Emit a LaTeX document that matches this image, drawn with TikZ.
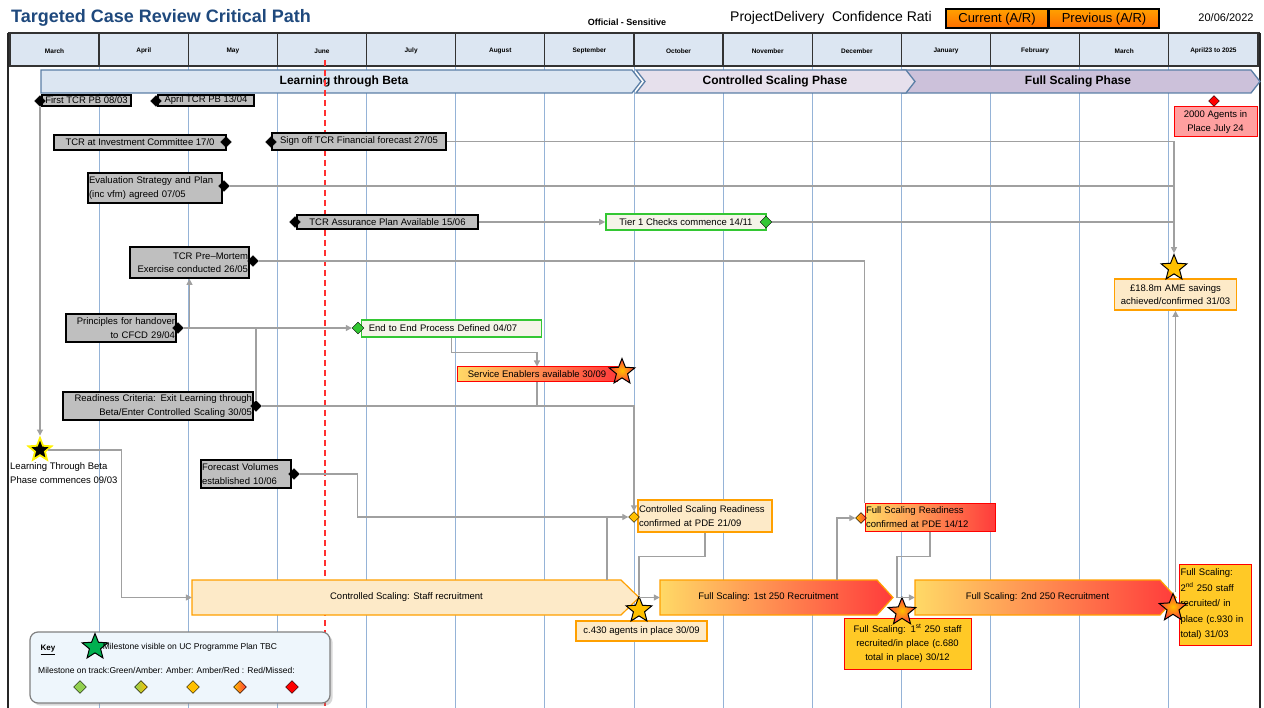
\documentclass[tikz,border=0pt]{standalone}
\usepackage{fontspec}
\setmainfont{Liberation Sans}
\usepackage{tikz}
\usetikzlibrary{arrows.meta,shapes.geometric,positioning,shadows}

\definecolor{titleblue}{HTML}{1F497D}
\definecolor{hdrfill}{HTML}{DCE6F2}
\definecolor{gridblue}{HTML}{95B3D7}
\definecolor{phaseline}{HTML}{5B7FA6}
\definecolor{learnfill}{HTML}{DCE6F2}
\definecolor{ctrlfill}{HTML}{E6E0EC}
\definecolor{fullfill}{HTML}{CCC1DA}
\definecolor{msgray}{HTML}{BFBFBF}
\definecolor{linkgray}{HTML}{A0A0A0}
\definecolor{okgreen}{HTML}{33C733}
\definecolor{okfill}{HTML}{F4F4E8}
\definecolor{amber}{HTML}{FFC000}
\definecolor{amberbox}{HTML}{FFC926}
\definecolor{cream}{HTML}{FDEAC8}
\definecolor{orangeline}{HTML}{FFA000}
\definecolor{hotred}{HTML}{FF3B3B}
\definecolor{paleyellow}{HTML}{FFD966}
\definecolor{agentpink}{HTML}{FFA0A0}
\definecolor{keyfill}{HTML}{EEF6FC}
\definecolor{lightgreen}{HTML}{92D050}
\definecolor{keygreen}{HTML}{00B050}
\definecolor{todayred}{HTML}{FF3030}

\begin{document}
\begin{tikzpicture}[x=1pt, y=-1pt,
    every node/.style={font=\fontsize{9.5}{13.5}\selectfont, inner sep=1pt},
    month/.style={font=\fontsize{6.5}{7}\selectfont\bfseries},
    phase/.style={draw=phaseline, line width=1.3pt},
    phaselabel/.style={font=\fontsize{12}{14}\selectfont\bfseries},
    msbox/.style={draw=black, line width=1.8pt, fill=msgray},
    okbox/.style={draw=okgreen, line width=1.6pt, fill=okfill},
    creambox/.style={draw=orangeline, line width=1.6pt, fill=cream},
    hotbox/.style={draw=red, line width=1pt, left color=paleyellow, right color=hotred},
    amberred/.style={draw=red, line width=1pt, fill=amberbox},
    msdia/.style={diamond, draw=black, fill=black, inner sep=0pt, minimum size=11pt},
    okdia/.style={msdia, fill=okgreen, minimum size=12pt},
    mstar/.style={star, star points=5, star point ratio=2.3, draw=black, line width=1pt, inner sep=0pt, minimum size=27pt},
    hotstar/.style={mstar, inner color=amber, outer color=hotred},
    link/.style={draw=linkgray, line width=1.2pt},
    arr/.style={link, -{Triangle[length=6pt, width=6pt]}}
  ]
  \useasboundingbox (0,0) rectangle (1264,708);
  \fill[white] (0,0) rectangle (1264,708);

  % header
  \node[font=\fontsize{18}{20}\selectfont\bfseries, text=titleblue, anchor=west] (title) at (10,18) {Targeted Case Review Critical Path};
  \node[font=\fontsize{9}{10}\selectfont\bfseries] (official) at (627,22) {Official - Sensitive};
  \node[font=\fontsize{14}{16}\selectfont, anchor=west] (pdcr) at (729,18) {ProjectDelivery\ \ Confidence Rati};
  \node[draw=black, line width=2pt, top color=orange!75!yellow, bottom color=orange!85!red, font=\fontsize{13}{15}\selectfont, minimum width=102pt, minimum height=19pt, inner sep=0pt] (current) at (997,19) {Current (A/R)};
  \node[draw=black, line width=2pt, top color=orange!75!yellow, bottom color=orange!85!red, font=\fontsize{13}{15}\selectfont, minimum width=110pt, minimum height=19pt, inner sep=0pt] (previous) at (1104,19) {Previous (A/R)};
  \node[font=\fontsize{11}{13}\selectfont] (date) at (1226,18) {20/06/2022};

  % month table and grid
  \fill[hdrfill] (10,33) rectangle (1258,66);
  \foreach \i in {1,...,13}
    \draw[gridblue, line width=0.9pt] ({10+89.14*\i},66) -- ({10+89.14*\i},708);
  \foreach \i in {0,...,14}
    \draw[black!80, line width=1.3pt] ({10+89.14*\i},33) -- ({10+89.14*\i},66);
  \draw[black!80, line width=1.3pt] (8,33) -- (1260,33) (8,66) -- (1260,66);
  \draw[black!85, line width=1.5pt] (8,33) -- (8,708) (1260,33) -- (1260,708);
  \foreach \m [count=\i from 0] in {March,April,May,June,July,August,September,October,November,December,January,February,March,April23 to 2025}
    \node[month] (m\i) at ({10+89.14*\i+44.57},51) {\m};

  % phases
  \draw[phase, fill=fullfill] (903,70) -- (1251,70) -- (1260,81.5) -- (1251,93) -- (903,93) -- (912,81.5) -- cycle;
  \draw[phase, fill=ctrlfill] (636,70) -- (906,70) -- (915,81.5) -- (906,93) -- (636,93) -- (645,81.5) -- cycle;
  \draw[phase, fill=learnfill] (41,70) -- (632,70) -- (641,81.5) -- (632,93) -- (41,93) -- cycle;
  \node[phaselabel] (learn) at (344,81.5) {Learning through Beta};
  \node[phaselabel] (ctrl) at (775,81.5) {Controlled Scaling Phase};
  \node[phaselabel] (full) at (1078,81.5) {Full Scaling Phase};

  % today
  \draw[todayred, line width=1.4pt, dash pattern=on 6pt off 4pt] (325,60) -- (325,708);

  % milestones
  \node[msbox, minimum width=89pt, minimum height=11pt] (ms1) at (86.5,100.5) {First TCR PB 08/03};
  \node[msdia] (ms1d) at (40,101) {};
  \node[msbox, minimum width=96pt, minimum height=11pt] (ms2) at (206,100.5) {April TCR PB 13/04};
  \node[msdia] (ms2d) at (156,101) {};
  \node[msbox, minimum width=172pt, minimum height=15pt] (ms3) at (140,142.5) {TCR at Investment Committee 17/0};
  \node[msdia] (ms3d) at (226,142) {};
  \node[msbox, minimum width=174pt, minimum height=17pt] (ms4) at (359,141.5) {Sign off TCR Financial forecast 27/05};
  \node[msdia] (ms4d) at (271,142) {};
  \node[msbox, text width=132pt, align=left, minimum height=30pt] (ms5) at (155,188) {Evaluation Strategy and Plan\\(inc vfm) agreed 07/05};
  \node[msdia] (ms5d) at (224,186) {};
  \node[msbox, minimum width=181pt, minimum height=14pt] (ms6) at (387.5,222) {TCR Assurance Plan Available 15/06};
  \node[msdia] (ms6d) at (295,222) {};
  \node[okbox, minimum width=160pt, minimum height=16pt] (tier) at (686,222) {Tier 1 Checks commence 14/11};
  \node[okdia] (tierd) at (766,222) {};
  \node[msbox, text width=117pt, align=right, minimum height=31pt] (pm) at (189.5,262.5) {TCR Pre--Mortem\\Exercise conducted 26/05};
  \node[msdia] (pmd) at (253,261) {};
  \node[msbox, text width=108pt, align=right, minimum height=28pt] (pr) at (121,328) {Principles for handover\\to CFCD 29/04};
  \node[msdia] (prd) at (178,328) {};
  \node[okbox, text width=178pt, align=left, minimum height=17pt] (e2e) at (451.5,328.5) {\ \ End to End Process Defined 04/07};
  \node[okdia] (e2ed) at (358,328) {};
  \node[msbox, text width=188pt, align=right, minimum height=28pt] (rc) at (158,406) {Readiness Criteria: Exit Learning through\\Beta/Enter Controlled Scaling 30/05};
  \node[msdia] (rcd) at (256,406) {};
  \node[hotbox, minimum width=160pt, minimum height=15pt] (se) at (537,374.5) {Service Enablers available 30/09};
  \node[hotstar] (sestar) at (622,372) {};
  \node[msbox, text width=88pt, align=left, minimum height=28pt] (fv) at (246,474) {Forecast Volumes\\established 10/06};
  \node[msdia] (fvd) at (294,474) {};

  \node[mstar, fill=black, draw=yellow, line width=1.8pt, minimum size=24pt] (ltb) at (40,450) {};
  \node[anchor=west, align=left, font=\fontsize{9.5}{14}\selectfont] (ltbtext) at (9,473) {Learning Through Beta\\Phase commences 09/03};

  \node[creambox, text width=132pt, align=left, minimum height=32pt] (csr) at (705,516) {Controlled Scaling Readiness\\confirmed at PDE 21/09};
  \node[msdia, fill=amber] (csrd) at (634,517) {};
  \node[hotbox, text width=128pt, align=left, minimum height=28pt] (fsr) at (930,517) {Full Scaling Readiness\\confirmed at PDE 14/12};
  \node[msdia, left color=amber, right color=hotred] (fsrd) at (861,518) {};

  \node[draw=red, line width=1pt, fill=agentpink, minimum width=83pt, minimum height=30pt, align=center] (agents) at (1215.5,122) {2000 Agents in\\Place July 24};
  \node[msdia, fill=red] (agentsd) at (1214,101) {};
  \node[creambox, text width=120pt, align=center, minimum height=31pt] (ame) at (1175.5,294.5) {\pounds18.8m AME savings\\achieved/confirmed 31/03};
  \node[mstar, fill=amber] (amestar) at (1174,268) {};

  % recruitment bars
  \draw[draw=orangeline, line width=1.2pt, fill=cream] (192,580) -- (621,580) -- (639,597.5) -- (621,615) -- (192,615) -- cycle;
  \node[minimum width=429pt, minimum height=35pt] (csrec) at (406.5,597.5) {Controlled Scaling: Staff recruitment};
  \coordinate (cstip) at (639,597.5);
  \coordinate (csrectop) at (607,580);
  \draw[draw=orangeline, line width=1.2pt, left color=paleyellow, middle color=orange!70!yellow, right color=hotred] (660,580) -- (877,580) -- (893,597.5) -- (877,615) -- (660,615) -- cycle;
  \node[minimum width=217pt, minimum height=35pt] (fs1) at (768.5,597.5) {Full Scaling: 1st 250 Recruitment};
  \coordinate (fs1top) at (837,580);
  \draw[draw=orangeline, line width=1.2pt, left color=paleyellow, middle color=orange!70!yellow, right color=hotred] (915,580) -- (1160,580) -- (1176,597.5) -- (1160,615) -- (915,615) -- cycle;
  \node[minimum width=245pt, minimum height=35pt] (fs2) at (1037.5,597.5) {Full Scaling: 2nd 250 Recruitment};

  \node[creambox, minimum width=131pt, minimum height=20pt] (c430) at (641.5,631) {c.430 agents in place 30/09};
  \node[mstar, fill=amber] (c430star) at (639,610) {};
  \node[amberred, text width=125pt, align=center, minimum height=51pt, font=\fontsize{9.5}{14}\selectfont] (fs1box) at (907.5,643.5) {Full Scaling: 1\textsuperscript{st} 250 staff\\recruited/in place (c.680\\total in place) 30/12};
  \node[hotstar, minimum size=29pt] (fs1star) at (902,612) {};
  \node[amberred, text width=70pt, align=left, minimum height=81pt, font=\fontsize{9.5}{15.5}\selectfont] (fs2box) at (1215.5,604.5) {Full Scaling:\\2\textsuperscript{nd} 250 staff\\recruited/ in\\place (c.930 in\\total) 31/03};
  \node[hotstar, minimum size=29pt] (fs2star) at (1173,608) {};

  % connectors
  \draw[arr] (ms1d.south) -- (ltb.north);
  \draw[arr] (ltb.east) -| ([xshift=-70pt]csrec.west) -- (csrec.west);
  \draw[arr] (ms4.east) -| (amestar.north);
  \draw[link] (ms5d.east) -- (amestar.north |- ms5d.east);
  \draw[arr] (ms6.east) -- (tier.west);
  \draw[link] (tierd.east) -- (amestar.north |- tierd.east);
  \draw[link] (pmd.east) -| (fsr.north west);
  \draw[arr] (prd.east) -- (e2ed.west);
  \draw[arr] (pm.south |- prd.east) -- (pm.south);
  \draw[link] (rcd.north) -- (rcd |- prd.east);
  \draw[arr] (rcd.east) -| (csrd.north);
  \draw[arr] (e2e.south) -- ++(0,15) -| (se.north);
  \draw[link] (se.south) -- (se.south |- rcd);
  \draw[arr] (fvd.east) -- ++(58,0) |- (csrd.west);
  \draw[link] (csrectop) -- (csrectop |- csrd);
  \draw[link] (csr.south) -- ++(0,24) -| (c430star.north);
  \draw[arr] (cstip) -- (fs1.west);
  \draw[arr] (fs1top) |- (fsrd.west);
  \draw[arr] (fsr.south) -- ++(0,25) -- ++(-33,0) |- (fs2.west);
  \draw[arr] (ame.south |- fs2star.north) -- (ame.south);

  % key
  \node[draw=black!50, line width=1.2pt, fill=keyfill, rounded corners=8pt, minimum width=300pt, minimum height=71pt, drop shadow={opacity=0.3}] (key) at (180,667.5) {};
  \node[font=\fontsize{8}{9}\selectfont\bfseries] (keytitle) at (48,650) {\underline{Key}};
  \node[mstar, fill=keygreen] (keystar) at (95,647) {};
  \node[font=\fontsize{8.5}{10}\selectfont, right=-2pt of keystar] (keystartext) {Milestone visible on UC Programme Plan TBC};
  \node[font=\fontsize{8.5}{10}\selectfont, anchor=west] (keyrag) at (37,670) {Milestone on track:Green/Amber: Amber: Amber/Red : Red/Missed:};
  \node[msdia, fill=lightgreen, minimum size=13pt] (k1) at (80,687) {};
  \node[msdia, left color=lightgreen, right color=amber, minimum size=13pt] (k2) at (141,687) {};
  \node[msdia, fill=amber, minimum size=13pt] (k3) at (193,687) {};
  \node[msdia, left color=amber, right color=hotred, minimum size=13pt] (k4) at (240,687) {};
  \node[msdia, fill=red, minimum size=13pt] (k5) at (292,687) {};
\end{tikzpicture}
\end{document}
